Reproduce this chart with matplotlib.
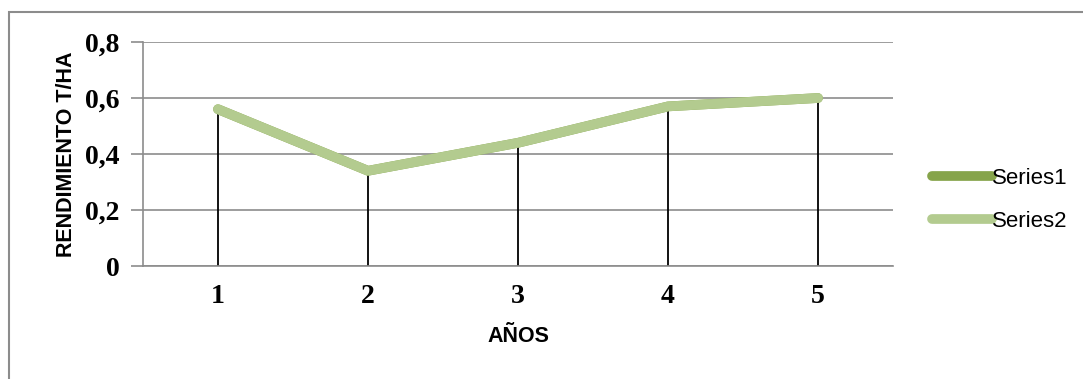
import matplotlib.pyplot as plt
from matplotlib.patches import Rectangle

# Data
years = [1, 2, 3, 4, 5]
series1 = [0.56, 0.34, 0.44, 0.57, 0.60]
series2 = [0.56, 0.34, 0.44, 0.57, 0.60]
yticks = [0, 0.2, 0.4, 0.6, 0.8]
ytick_labels = ['0', '0,2', '0,4', '0,6', '0,8']

W, H = 1083, 379
fig = plt.figure(figsize=(W / 100, H / 100), dpi=100)

# Outer chart frame (runs off the right and bottom edge)
fig.patches.append(Rectangle((9 / W, -0.05), 1.1, 1 - 12 / H + 0.05,
                             transform=fig.transFigure, fill=False,
                             edgecolor='#8c8c8c', linewidth=1.5))

ax = fig.add_axes([143 / W, 1 - 266 / H, 750 / W, 224 / H])

# Drop lines from each point to the axis
ax.vlines(years, 0, series1, color='black', linewidth=1.3, zorder=2)
ax.plot(years, series1, color='#86a44a', linewidth=7, solid_capstyle='round',
        solid_joinstyle='round', label='Series1', zorder=3)
ax.plot(years, series2, color='#b3cb8f', linewidth=7, solid_capstyle='round',
        solid_joinstyle='round', label='Series2', zorder=4)

ax.set_xlim(0.5, 5.5)
ax.set_ylim(0, 0.8)
ax.set_yticks(yticks)
ax.set_yticklabels(ytick_labels, fontfamily='Liberation Serif', fontweight='bold', fontsize=20)
ax.set_xticks(years)
ax.set_xticklabels([str(y) for y in years], fontfamily='Liberation Serif', fontweight='bold', fontsize=20)
ax.tick_params(axis='x', length=0, pad=13)
ax.tick_params(axis='y', length=9, color='#8c8c8c', width=1.2, pad=8)
ax.grid(axis='y', color='#8c8c8c', linewidth=1.2)
ax.set_axisbelow(True)
for s in ['top', 'right']:
    ax.spines[s].set_visible(False)
for s in ['left', 'bottom']:
    ax.spines[s].set_color('#8c8c8c')
    ax.spines[s].set_linewidth(1.2)

ax.set_ylabel('RENDIMIENTO T/HA', fontfamily='Liberation Sans', fontweight='bold', fontsize=15.5, labelpad=6)
ax.set_xlabel('AÑOS', fontfamily='Liberation Sans', fontweight='bold', fontsize=15.5, labelpad=12)

leg = fig.legend(loc='center left', bbox_to_anchor=(932 / W, 1 - 200 / H), frameon=False,
                 prop={'family': 'Liberation Sans', 'size': 16}, handlelength=2.7,
                 handletextpad=0.0, labelspacing=1.0, borderpad=0, borderaxespad=0)

fig.savefig('out.png', dpi=100)
